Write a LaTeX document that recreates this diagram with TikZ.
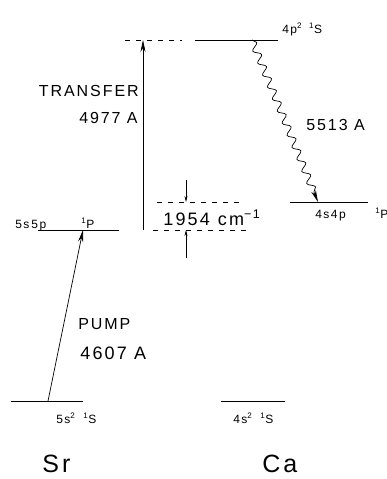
\documentclass[tikz,border=0pt]{standalone}
\usepackage{fontspec}
\setmainfont{Liberation Sans}[LetterSpace=12]
\usetikzlibrary{arrows.meta,decorations.pathmorphing}
\begin{document}
\begin{tikzpicture}[x=1pt,y=-1pt, line width=0.7pt,
  lvl/.style={line width=0.9pt},
  dlvl/.style={line width=0.8pt, dash pattern=on 5pt off 6pt},
  txt/.style={inner sep=0pt, font=\fontsize{16}{18}\selectfont},
  mid/.style={inner sep=0pt, font=\fontsize{18}{20}\selectfont},
  small/.style={inner sep=0pt, font=\fontsize{12}{14}\selectfont},
  big/.style={inner sep=0pt, font=\fontsize{25}{28}\selectfont},
  tip/.style={-{Stealth[length=12pt,width=5pt]}},
  stip/.style={-{Stealth[length=6pt,width=3pt]}},
]
\useasboundingbox (0,0) rectangle (387,479);
% coordinates
\coordinate (srg-l) at (11,401);  \coordinate (srg-r) at (83,401);
\coordinate (srp-l) at (38,230);  \coordinate (srp-r) at (119,230);
\coordinate (cag-l) at (221,401); \coordinate (cag-r) at (285,401);
\coordinate (cas-l) at (195,40);  \coordinate (cas-r) at (278,40);
\coordinate (cap-l) at (290,202); \coordinate (cap-r) at (368,202);
\coordinate (d1-l) at (125,40);   \coordinate (d1-r) at (182,40);
\coordinate (d2-l) at (157,202);  \coordinate (d2-r) at (242,202);
\coordinate (d3-l) at (153,230);  \coordinate (d3-r) at (248,230);
\coordinate (pump-a) at (48,401); \coordinate (pump-b) at (83,230);
\coordinate (tr-a) at (143,230);  \coordinate (tr-b) at (143,40);
\coordinate (w-a) at (252,40);    \coordinate (w-b) at (318,202);
\coordinate (s1-a) at (186,180);  \coordinate (s1-b) at (186,202);
\coordinate (s2-a) at (186,258);  \coordinate (s2-b) at (186,230);
% levels
\draw[lvl] (srg-l) -- (srg-r);
\draw[lvl] (srp-l) -- (srp-r);
\draw[lvl] (cag-l) -- (cag-r);
\draw[lvl] (cas-l) -- (cas-r);
\draw[lvl] (cap-l) -- (cap-r);
\draw[dlvl] (d1-l) -- (d1-r);
\draw[dlvl] (d2-l) -- (d2-r);
\draw[dlvl] (d3-l) -- (d3-r);
% transitions
\draw[tip] (pump-a) -- (pump-b);
\draw[tip] (tr-a) -- (tr-b);
\draw[tip, decorate, decoration={snake, amplitude=3.5pt, segment length=13pt, post length=9pt}] (w-a) -- (w-b);
\draw[stip] (s1-a) -- (s1-b);
\draw[stip] (s2-a) -- (s2-b);
% labels
\node[small, anchor=base west] (l4p2) at (282,33) {4p\textsuperscript{2}\hspace{7pt}\textsuperscript{1}S};
\node[txt, anchor=base east] (ltr) at (139,96) {TRANSFER};
\node[txt, anchor=base east] (l4977) at (138,123) {4977 A};
\node[txt, anchor=base west] (l5513) at (306,130) {5513 A};
\node[small, anchor=base west] (l5s5p) at (15,228) {5s\hspace{2pt}5p};
\node[small, anchor=base west] (l1p) at (81,228) {\textsuperscript{1}P};
\node[mid, anchor=base west] (l1954) at (163,225) {1954\hspace{8pt}cm\textsuperscript{−1}};
\node[small, anchor=base west] (l4s4p) at (315,218) {4s4p};
\node[small, anchor=base west] (l1p2) at (375,218) {\textsuperscript{1}P};
\node[txt, anchor=base west] (lpump) at (78,329) {PUMP};
\node[mid, anchor=base west] (l4607) at (80,359) {4607 A};
\node[small, anchor=base west] (l5s2) at (56,423) {5s\textsuperscript{2}\hspace{8pt}\textsuperscript{1}S};
\node[small, anchor=base west] (l4s2) at (233,423) {4s\textsuperscript{2}\hspace{8pt}\textsuperscript{1}S};
\node[big, anchor=base west] (lsr) at (42,472) {Sr};
\node[big, anchor=base west] (lca) at (262,472) {Ca};
\end{tikzpicture}
\end{document}
